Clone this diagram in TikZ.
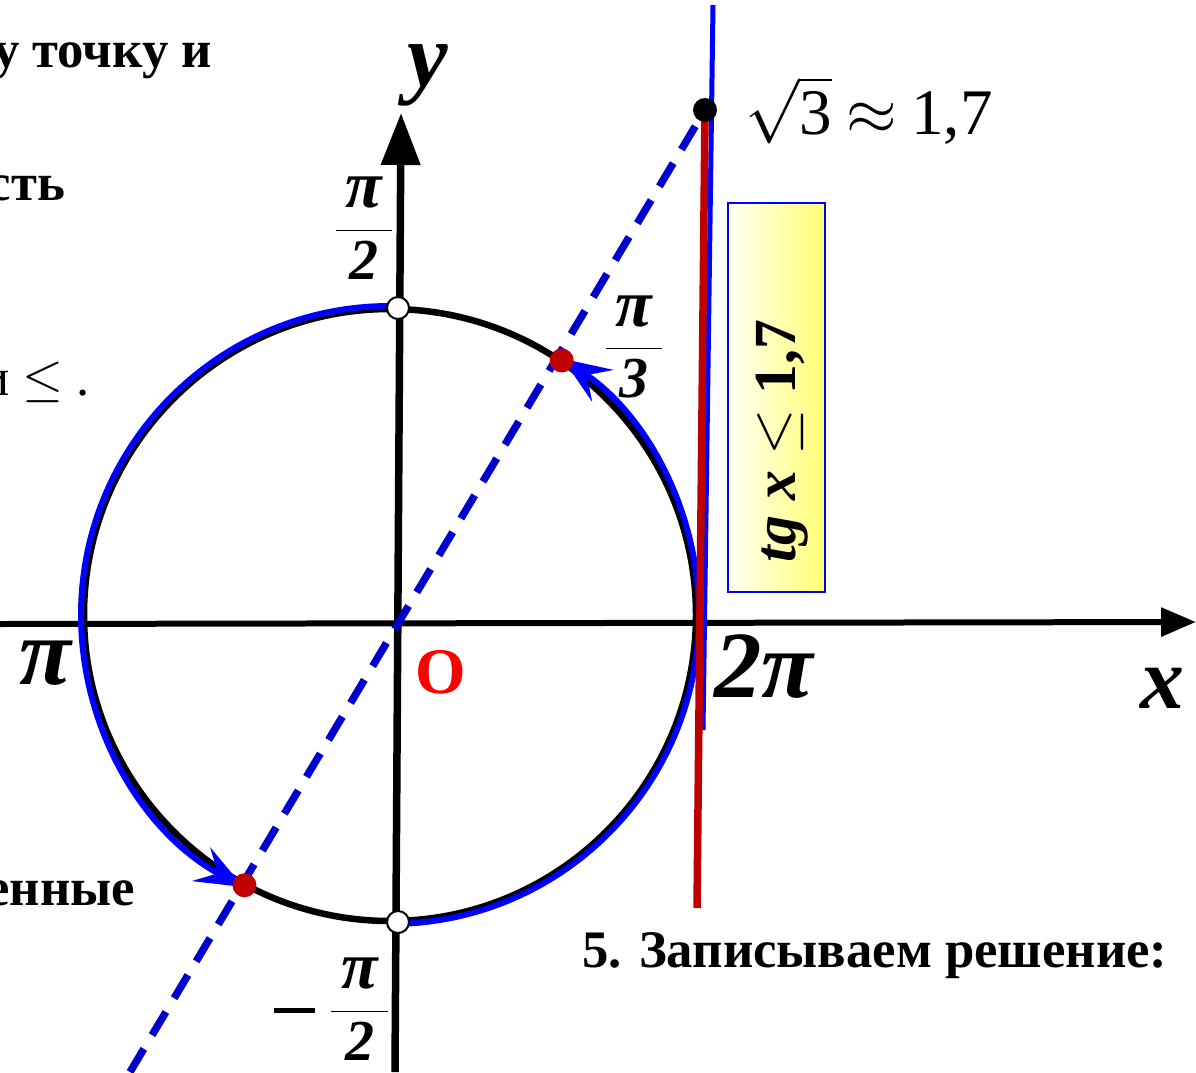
\documentclass[tikz,border=0pt]{standalone}
\usepackage{fix-cm}
\usepackage{fontspec}
\setmainfont{Liberation Serif}
\usepackage{tikz}
\usetikzlibrary{arrows.meta,calc}
\definecolor{pointred}{HTML}{C00000}
\definecolor{pureblue}{HTML}{0000FF}
\definecolor{dashblue}{HTML}{0000CC}
\newcommand{\bigpi}{\mbox{\fontsize{38pt}{40pt}\selectfont\hspace{0.15em}π\hspace{0.15em}}}
\newcommand{\bigdigit}[1]{\mbox{\fontsize{33pt}{36pt}\selectfont #1}}

\begin{document}
\begin{tikzpicture}[x=0.02cm,y=0.02cm,
  every node/.style={inner sep=0pt,outer sep=0pt},
  axisline/.style={line width=0.12cm,-{Triangle[length=0.7cm,width=0.56cm]}},
  unitcirc/.style={line width=0.13cm},
  solarc/.style={pureblue,line width=0.12cm,-{Stealth[length=0.96cm,width=0.76cm,inset=0.38cm]}},
  dashline/.style={dashblue,line width=0.15cm,dash pattern=on 0.54cm off 0.32cm},
  reddot/.style={circle,fill=pointred,minimum size=0.48cm},
  holedot/.style={circle,draw,fill=white,line width=0.04cm,minimum size=0.44cm},
  ticklab/.style={font=\fontsize{54pt}{60pt}\selectfont\bfseries\itshape},
  fraclab/.style={font=\fontsize{30pt}{36pt}\selectfont\bfseries\itshape},
  slidetext/.style={font=\fontsize{30pt}{36pt}\selectfont\bfseries}]
\useasboundingbox (0,-1072) rectangle (1196,0);
\clip (0,-1072) rectangle (1196,0);

% axes
\coordinate (xl) at (0,-624);
\coordinate (xr) at (1196,-622);
\coordinate (yb) at (395,-1072);
\coordinate (yt) at (401,-113);
\draw[axisline] (xl) -- (xr);
\draw[axisline,line width=0.15cm,-{Triangle[length=1.04cm,width=0.76cm]}] (yb) -- (yt);

% unit circle and the solution arcs
\coordinate (C) at (390,-615);
\draw[unitcirc] (C) circle[radius=306];
\draw[solarc] ($(C)+(88.5:309)$) arc[start angle=88.5,end angle=241.7,radius=309];
\draw[solarc] ($(C)+(-88.5:309)$) arc[start angle=-88.5,end angle=56,radius=309];

% line of tangents
\coordinate (tantop) at (713,-5);
\coordinate (tanmid) at (703,-730);
\coordinate (tanbot) at (697,-908);
\coordinate (lowend) at (130,-1072);
\node[circle,minimum size=0.46cm] (tanpt) at (705,-110) {};
\draw[dashline] (lowend) -- (tanpt.center);
\draw[pureblue,line width=0.1cm] (tantop) -- (tanmid);
\draw[pointred,line width=0.15cm] (tanpt.center) -- (tanbot);
\fill (tanpt) circle[radius=12];

% points
\node[reddot] (p1) at ($(C)+(56:307)$) {};
\node[reddot] (p2) at ($(C)+(241.7:307)$) {};
\node[holedot] (qtop) at (398,-308) {};
\node[holedot] (qbot) at (398,-922) {};

% labels
\node[ticklab,font=\fontsize{52pt}{58pt}\selectfont\bfseries\itshape] (ylab) at (428,-75) {y};
\node[ticklab,font=\fontsize{50pt}{56pt}\selectfont\bfseries\itshape] (xlab) at (1162,-688) {x};
\node[ticklab] (pilab) at (45,-663) {π};
\node[ticklab] (twopi) at (764,-667) {2π};
\node[font=\fontsize{37pt}{44pt}\selectfont\bfseries,text=red] (olab) at (441,-672) {O};
\node[fraclab] (halfpi) at (364,-228) {$\displaystyle\frac{\bigpi}{\bigdigit{2}}$};
\node[fraclab] (thirdpi) at (634,-347) {$\displaystyle\frac{\bigpi}{\bigdigit{3}}$};
\node[fraclab] (mhalfpi) at (332,-1009) {$\displaystyle\vcenter{\hbox{\rule{0.82cm}{0.1cm}}}\hspace{0.28cm}\frac{\bigpi}{\bigdigit{2}}$};
\node[font=\fontsize{37pt}{44pt}\selectfont] (rootlab) at (869,-110) {$\sqrt{\mbox{3}}\mskip4mu{\approx}\mskip4mu\mbox{1,7}$};

% inequality box
\node[draw=blue,line width=0.04cm,left color=yellow!4,right color=yellow!55,
  minimum width=1.94cm,minimum height=7.78cm] (tgbox) at (776.5,-397.5) {};
\node[rotate=90,font=\fontsize{34pt}{40pt}\selectfont\bfseries] (tgtext) at (782,-441) {\textit{tg x} $\leq$ 1,7};

% slide text
\node[slidetext,anchor=base east] (txta) at (212,-67) {у точку и};
\node[slidetext,anchor=base east] (txtb) at (65,-200) {сть};
\node[font=\fontsize{30pt}{36pt}\selectfont,anchor=base east] (txtc) at (90,-395) {и $\leq$ .};
\node[slidetext,anchor=base east] (txtd) at (135,-905) {енные};
\node[slidetext,anchor=base west] (txte) at (582,-967) {5. Записываем решение:};
\end{tikzpicture}
\end{document}
